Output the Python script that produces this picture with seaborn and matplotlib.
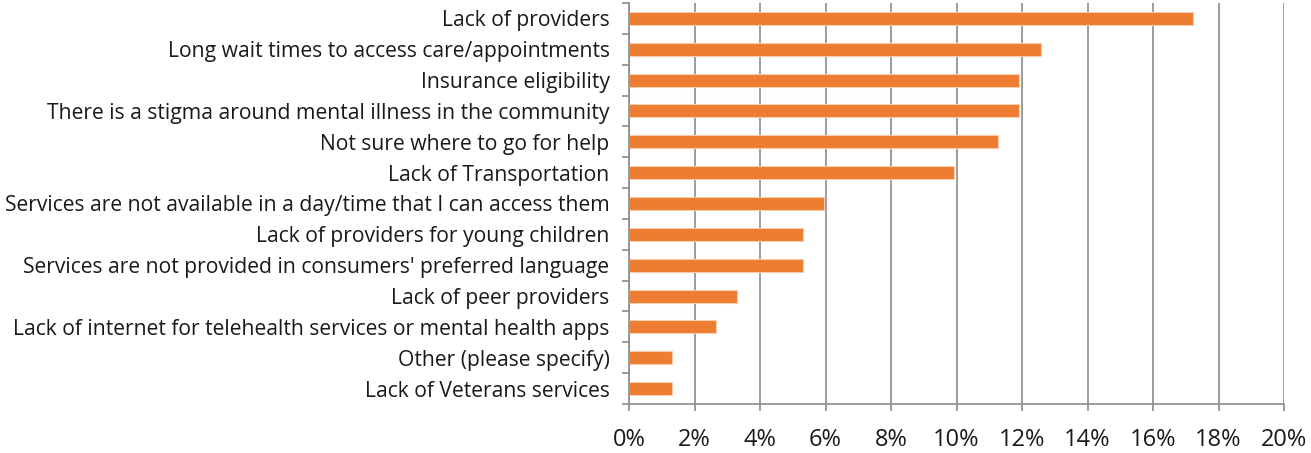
import seaborn as sns
import matplotlib.pyplot as plt
import pandas as pd
import numpy as np
from matplotlib.ticker import FixedLocator, PercentFormatter

# survey barriers, share of responses (%)
barriers = [
    "Lack of providers",
    "Long wait times to access care/appointments",
    "Insurance eligibility",
    "There is a stigma around mental illness in the community",
    "Not sure where to go for help",
    "Lack of Transportation",
    "Services are not available in a day/time that I can access them",
    "Lack of providers for young children",
    "Services are not provided in consumers' preferred language",
    "Lack of peer providers",
    "Lack of internet for telehealth services or mental health apps",
    "Other (please specify)",
    "Lack of Veterans services",
]
shares = [17.22, 12.58, 11.92, 11.92, 11.26, 9.93, 5.96, 5.30, 5.30, 3.31, 2.65, 1.32, 1.32]
x_ticks = [0, 2, 4, 6, 8, 10, 12, 14, 16, 18, 20]

df = pd.DataFrame({"barrier": barriers, "share": shares})

sns.set_style("white")
plt.rcParams["font.family"] = ["Open Sans", "DejaVu Sans"]

fig = plt.figure(figsize=(13.11, 4.53), dpi=100)
ax = fig.add_axes([629 / 1311, 1 - 404 / 453, (1284 - 629) / 1311, 401 / 453])

sns.barplot(data=df, x="share", y="barrier", color="#ED7D31", width=0.42,
            edgecolor="#F8CBAD", linewidth=0.8, saturation=1, ax=ax)

ax.set_xlim(0, 20)
ax.set_ylim(len(barriers) - 0.5, -0.5)
ax.xaxis.set_major_locator(FixedLocator(x_ticks))
ax.xaxis.set_major_formatter(PercentFormatter(decimals=0))
ax.grid(axis="x", color="#8c8c8c", linewidth=1.2)
ax.set_axisbelow(True)

for side in ["top", "right"]:
    ax.spines[side].set_visible(False)
for side in ["left", "bottom"]:
    ax.spines[side].set_color("#8c8c8c")
    ax.spines[side].set_linewidth(1.2)

# y ticks at category boundaries
ax.yaxis.set_minor_locator(FixedLocator(np.arange(-0.5, len(barriers), 1)))
ax.tick_params(axis="y", which="major", length=0, pad=14, labelsize=15.2, labelcolor="#1a1a1a")
ax.tick_params(axis="y", which="minor", length=5, width=1.2, color="#8c8c8c", left=True)
ax.tick_params(axis="x", which="major", length=5, width=1.2, color="#8c8c8c", bottom=True,
               pad=12, labelsize=17, labelcolor="#1a1a1a")

ax.set_xlabel("")
ax.set_ylabel("")

fig.savefig("out.png", dpi=100)
